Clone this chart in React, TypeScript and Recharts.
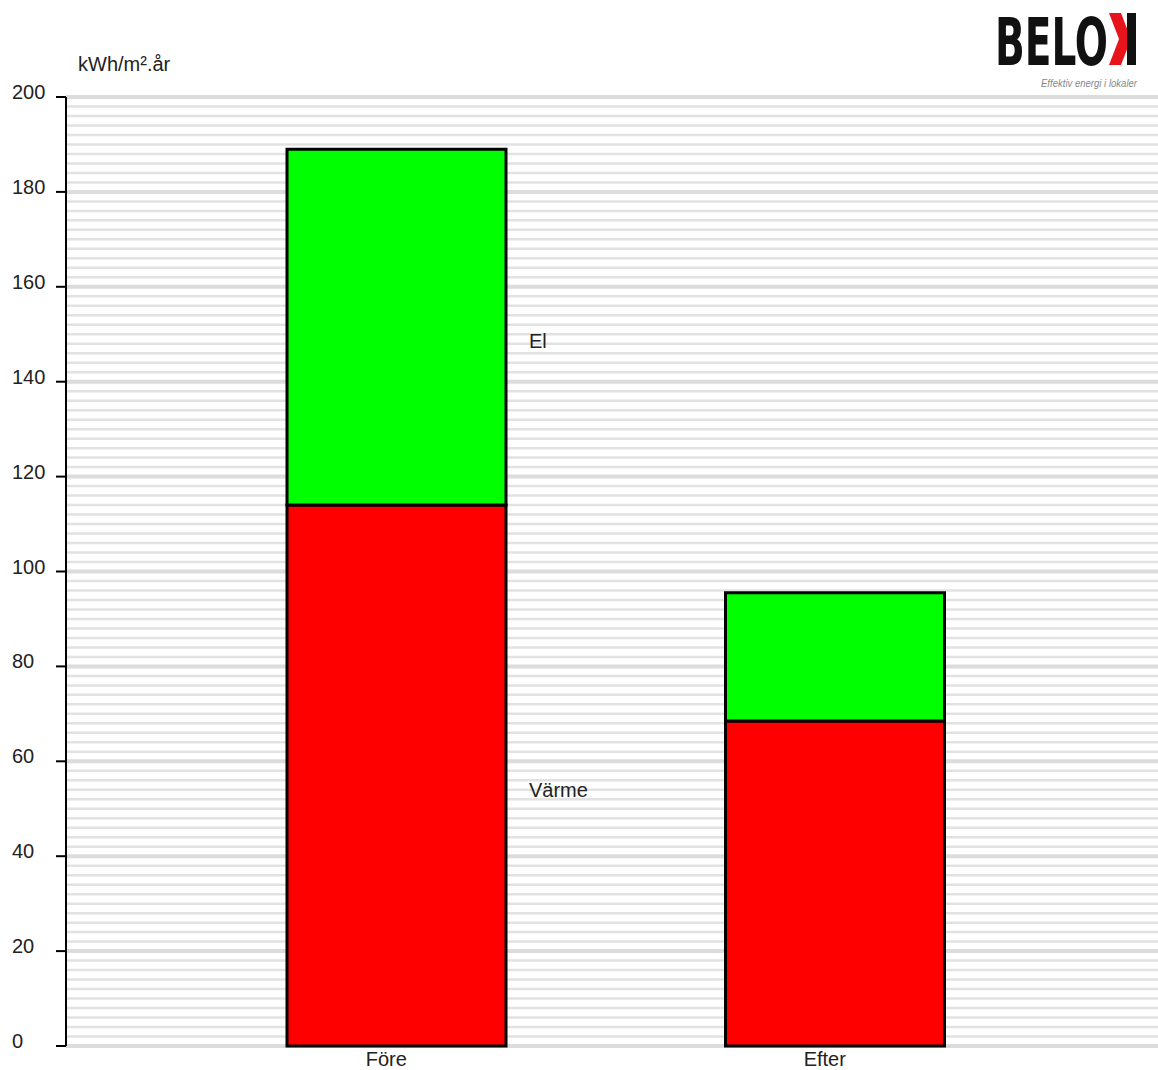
import React from "react";
import {
    BarChart,
    Bar,
    XAxis,
    YAxis,
    CartesianGrid,
    LabelList,
} from "recharts";

// values (kWh/m².år)
const categories = ["Före", "Efter"];
const varme = [114, 68.5];
const el = [75, 27];
const yTicks = [0, 20, 40, 60, 80, 100, 120, 140, 160, 180, 200];
const minorLines = Array.from({ length: 101 }, (_, i) => i * 2).filter((v) => v % 20 !== 0);

const seriesNames = { varme: "Värme", el: "El" };

const data = categories.map((c, i) => ({
    name: c,
    varme: varme[i],
    el: el[i],
}));

const FONT = "'Liberation Sans', Arial, sans-serif";

function YTick(props: any) {
    const { y, payload } = props;
    return (
        <text x={12} y={y} dy={2} fontSize={20} fill="#222" fontFamily={FONT}>
            {payload.value}
        </text>
    );
}

function XTick(props: any) {
    const { x, y, payload } = props;
    return (
        <text x={x - 10} y={y} dy={12} fontSize={20} fill="#222" textAnchor="middle" fontFamily={FONT}>
            {payload.value}
        </text>
    );
}

// series name written to the right of the first bar
function sideLabel(name: string) {
    return (props: any) => {
        const { x, y, width, height, index } = props;
        if (index !== 0) return null;
        return (
            <text
                x={x + width + 23}
                y={y + height / 2 + 21}
                fontSize={20}
                fill="#222"
                fontFamily={FONT}
            >
                {name}
            </text>
        );
    };
}

function Logo() {
    return (
        <svg
            width={160}
            height={95}
            style={{ position: "absolute", left: 990, top: 0 }}
        >
            <g transform="translate(0,65) scale(1,1.1)">
                <text
                    x={5}
                    y={0}
                    fontSize={60}
                    fontWeight="bold"
                    fontFamily="'Liberation Sans Narrow', 'DejaVu Sans Condensed', sans-serif"
                    textLength={113}
                    lengthAdjust="spacingAndGlyphs"
                    fill="#111"
                >
                    BELO
                </text>
            </g>
            <polygon points="119,13 131,13 141,39 131,65 119,65 129,39" fill="#e8141c" />
            <rect x={137} y={13} width={9} height={52} fill="#111" />
            <text
                x={147}
                y={87}
                fontSize={10}
                fontStyle="italic"
                textAnchor="end"
                fill="#888"
                fontFamily={FONT}
                textLength={96}
                lengthAdjust="spacingAndGlyphs"
            >
                Effektiv energi i lokaler
            </text>
        </svg>
    );
}

export default function App() {
    return (
        <div style={{ position: "absolute", left: 0, top: 0, width: 1158, height: 1070, background: "#fff" }}>
            <div
                style={{
                    position: "absolute",
                    left: 78,
                    top: 53,
                    fontSize: 20,
                    fontFamily: FONT,
                    color: "#222",
                }}
            >
                kWh/m².år
            </div>
            <Logo />
            <BarChart
                width={1158}
                height={1070}
                data={data}
                margin={{ top: 97, right: 0, left: 0, bottom: 0 }}
                barGap={0}
                style={{ position: "absolute", left: 0, top: 0 }}
            >
                <CartesianGrid
                    vertical={false}
                    horizontalValues={minorLines}
                    stroke="#e2e2e2"
                    strokeWidth={2.5}
                />
                <CartesianGrid
                    vertical={false}
                    horizontalValues={yTicks}
                    stroke="#dcdcdc"
                    strokeWidth={4}
                />
                <XAxis
                    dataKey="name"
                    height={24}
                    axisLine={false}
                    tickLine={false}
                    tick={<XTick />}
                    padding={{ left: 111, right: 104 }}
                />
                <YAxis
                    width={66}
                    domain={[0, 200]}
                    ticks={yTicks}
                    interval={0}
                    axisLine={{ stroke: "#000", strokeWidth: 2 }}
                    tickLine={{ stroke: "#000", strokeWidth: 2 }}
                    tickSize={10}
                    tick={<YTick />}
                />
                <Bar
                    dataKey="varme"
                    stackId="a"
                    fill="#ff0000"
                    stroke="#000"
                    strokeWidth={3}
                    barSize={219}
                    isAnimationActive={false}
                >
                    <LabelList dataKey="varme" content={sideLabel(seriesNames.varme)} />
                </Bar>
                <Bar
                    dataKey="el"
                    stackId="a"
                    fill="#00ff00"
                    stroke="#000"
                    strokeWidth={3}
                    barSize={219}
                    isAnimationActive={false}
                >
                    <LabelList dataKey="el" content={sideLabel(seriesNames.el)} />
                </Bar>
            </BarChart>
        </div>
    );
}
